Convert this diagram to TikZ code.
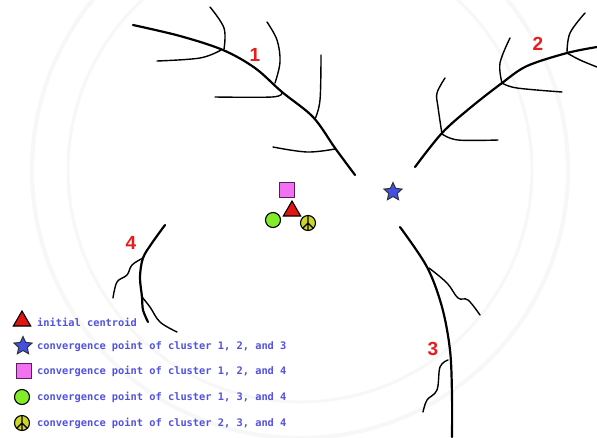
\documentclass[tikz,border=0pt]{standalone}
\usepackage{fontspec}
\setmonofont{DejaVu Sans Mono}
\setsansfont{Liberation Sans}
\usetikzlibrary{shapes.geometric}

\definecolor{legendblue}{RGB}{82,82,226}
\definecolor{labelred}{RGB}{232,28,28}
\definecolor{trired}{RGB}{226,20,20}
\definecolor{starblue}{RGB}{64,80,226}
\definecolor{sqpink}{RGB}{242,112,242}
\definecolor{sqedge}{RGB}{90,30,90}
\definecolor{limegreen}{RGB}{130,236,40}
\definecolor{peaceyellow}{RGB}{206,212,40}
\definecolor{sealgray}{RGB}{247,247,247}

\tikzset{
  trunk/.style={line width=2.2pt, line cap=round, line join=round},
  twig/.style={line width=1.4pt, line cap=round, line join=round},
  clusterlabel/.style={font=\sffamily\bfseries\fontsize{19}{19}\selectfont, text=labelred, inner sep=0pt},
  legendtext/.style={font=\ttfamily\bfseries\fontsize{10.35}{12}\selectfont, text=legendblue, anchor=west, inner sep=0pt},
  centroidmark/.style={regular polygon, regular polygon sides=3, minimum size=20pt, inner sep=0pt,
    fill=trired, draw=black, line width=1.1pt},
  starmark/.style={star, star points=5, star point ratio=2.1, minimum size=19pt, inner sep=0pt,
    fill=starblue, draw=black!80, line width=1pt},
  squaremark/.style={rectangle, minimum size=15pt, inner sep=0pt,
    fill=sqpink, draw=sqedge, line width=1.1pt},
  circlemark/.style={circle, minimum size=15pt, inner sep=0pt,
    fill=limegreen, draw=black, line width=1.1pt},
  peacemark/.style={circle, minimum size=15pt, inner sep=0pt,
    fill=peaceyellow, draw=black, line width=1.1pt,
    path picture={
      \draw[line width=1.3pt]
        (path picture bounding box.north) -- (path picture bounding box.south)
        (path picture bounding box.center) -- (path picture bounding box.south west)
        (path picture bounding box.center) -- (path picture bounding box.south east);
    }},
}

\begin{document}
\begin{tikzpicture}[x=1pt, y=-1pt]
  \useasboundingbox (0,0) rectangle (597,437);
  \fill[white] (0,0) rectangle (597,437);

  % faint seal in the background
  \begin{scope}
    \clip (0,0) rectangle (597,437);
    \draw[sealgray, line width=4pt] (300,170) circle (268);
    \draw[sealgray, line width=3pt] (300,170) circle (232);
  \end{scope}

  % cluster 1
  \draw[trunk] plot[smooth, tension=0.55] coordinates
    {(133,25) (180,36) (223,50) (255,68) (282,92) (313,117) (335,148) (355,175)};
  \draw[twig] plot[smooth, tension=0.6] coordinates {(224,49) (224,28) (210,7)};
  \draw[twig] plot[smooth, tension=0.6] coordinates {(221,50) (200,58) (157,61)};
  \draw[twig] plot[smooth, tension=0.6] coordinates {(275,83) (280,62) (277,40) (267,22)};
  \draw[twig] plot[smooth, tension=0.6] coordinates {(282,93) (272,97) (215,97)};
  \draw[twig] plot[smooth, tension=0.6] coordinates {(315,119) (320,100) (321,55)};
  \draw[twig] plot[smooth, tension=0.6] coordinates {(335,149) (307,152) (273,147)};
  \node[clusterlabel] (lab1) at (255,55) {1};

  % cluster 2
  \draw[trunk] plot[smooth, tension=0.55] coordinates
    {(415,167) (442,133) (470,108) (502,83) (527,66) (567,53) (597,47)};
  \draw[twig] plot[smooth, tension=0.6] coordinates {(442,134) (438,107) (437,93) (445,78)};
  \draw[twig] plot[smooth, tension=0.6] coordinates {(442,134) (458,140) (498,140)};
  \draw[twig] plot[smooth, tension=0.6] coordinates {(502,83) (500,63) (510,38)};
  \draw[twig] plot[smooth, tension=0.6] coordinates {(502,83) (517,88) (562,92)};
  \draw[twig] plot[smooth, tension=0.6] coordinates {(567,53) (570,33) (585,13)};
  \draw[twig] plot[smooth, tension=0.6] coordinates {(567,53) (580,60) (597,67)};
  \node[clusterlabel] (lab2) at (538,44) {2};

  % cluster 3
  \draw[trunk] plot[smooth, tension=0.55] coordinates
    {(400,227) (427,267) (442,307) (450,350) (452,395) (452,437)};
  \draw[twig] plot[smooth, tension=0.6] coordinates
    {(429,268) (447,283) (458,298) (468,300) (480,315)};
  \draw[twig] plot[smooth, tension=0.6] coordinates
    {(448,360) (440,367) (437,390) (427,400) (423,412)};
  \node[clusterlabel] (lab3) at (433,349) {3};

  % cluster 4
  \draw[trunk] plot[smooth, tension=0.55] coordinates
    {(165,225) (152,243) (143,258) (140,277) (142,297) (143,310) (148,322)};
  \draw[twig] plot[smooth, tension=0.6] coordinates
    {(143,258) (132,265) (127,275) (117,282) (113,298)};
  \draw[twig] plot[smooth, tension=0.6] coordinates
    {(142,297) (150,307) (160,322) (177,332)};
  \node[clusterlabel] (lab4) at (131,243) {4};

  % centroid and convergence points
  \node[squaremark]   (sq)    at (287,190) {};
  \node[centroidmark] (tri)   at (292,211) {};
  \node[circlemark]   (circ)  at (273,220) {};
  \node[peacemark]    (peace) at (308,223) {};
  \node[starmark]     (st)    at (393,192) {};

  % legend
  \node[centroidmark] (k1) at (22,321) {};
  \node[legendtext]   (t1) at (37,322) {initial centroid};
  \node[starmark]     (k2) at (23,346) {};
  \node[legendtext]   (t2) at (37,346) {convergence point of cluster 1, 2, and 3};
  \node[squaremark]   (k3) at (24,371) {};
  \node[legendtext]   (t3) at (37,371) {convergence point of cluster 1, 2, and 4};
  \node[circlemark]   (k4) at (22,397) {};
  \node[legendtext]   (t4) at (37,397) {convergence point of cluster 1, 3, and 4};
  \node[peacemark]    (k5) at (22,423) {};
  \node[legendtext]   (t5) at (37,423) {convergence point of cluster 2, 3, and 4};
\end{tikzpicture}
\end{document}
